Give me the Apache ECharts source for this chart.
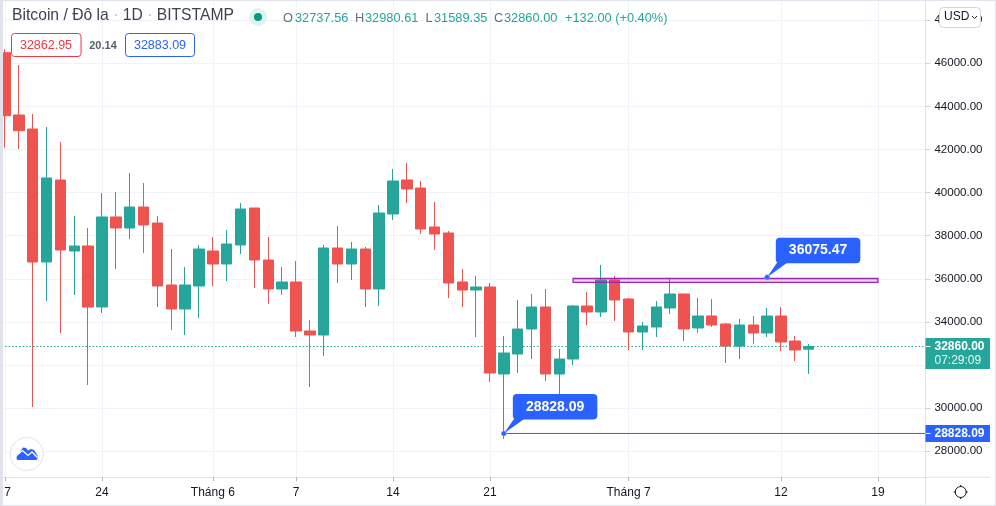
<!DOCTYPE html>
<html>
<head>
<meta charset="utf-8">
<script src="https://cdn.jsdelivr.net/npm/echarts@6/dist/echarts.min.js"></script>
<style>html,body{margin:0;padding:0;background:#fff}#c{width:996px;height:506px}</style>
</head>
<body>
<div id="c"></div>
<script>
const categories = ['17/5','18/5','19/5','20/5','21/5','22/5','23/5','24/5','25/5','26/5','27/5','28/5','29/5','30/5','31/5',
 '1/6','2/6','3/6','4/6','5/6','6/6','7/6','8/6','9/6','10/6','11/6','12/6','13/6','14/6','15/6','16/6','17/6','18/6','19/6','20/6','21/6',
 '22/6','23/6','24/6','25/6','26/6','27/6','28/6','29/6','30/6','1/7','2/7','3/7','4/7','5/7','6/7','7/7','8/7','9/7','10/7','11/7','12/7','13/7','14/7',
 '15/7','16/7','17/7','18/7','19/7','20/7','21/7','22/7'];
const opens = [46492,43602,42952,36782,40586,37293,37525,34695,38870,38360,39334,38591,35715,34602,35669,37293,36690,37571,39287,36875,35530,35855,33582,33396,37432,36690,37385,35530,39009,40586,40215,38406,38128,35855,35483,35623,31587,32514,33674,34695,31587,32283,34741,34463,35947,35066,33535,33767,34649,35298,33721,34277,33906,32885,33860,33489,34277,33117,32737.56];
const highs = [46663,45921,43648,43045,42349,38916,38360,39983,40030,40911,40447,38916,37385,36550,37571,37942,38267,39519,39287,37942,36550,36829,34092,37571,38452,37710,37478,39427,41097,41375,40540,39566,38220,36458,36133,35808,33350,35020,35298,35530,32746,34788,35391,36643,36133,35112,33999,34973,35994,35298,35112,35066,33953,34138,34277,34649,34695,33350,32980.61];
const lows = [42085,42024,30056,34973,33489,35251,31076,34417,36458,37849,37200,34695,33628,33396,34185,35669,35901,37153,35576,34834,35251,33303,30984,32422,35808,35947,34695,34741,38731,39519,38081,37339,35112,34695,33303,31216,28571,31633,32283,31262,30288,32004,33860,34231,34045,32700,32700,33303,34370,33117,33489,33767,32097,32283,32978,33303,32654,32190,31589.35];
const closes = [43569,42873,36782,40679,37339,37525,34695,38870,38360,39334,38499,35669,34602,35715,37385,36690,37617,39241,36875,35530,35855,33582,33396,37432,36690,37385,35530,39056,40540,40169,38313,38081,35808,35483,35623,31633,32561,33674,34695,31587,32283,34741,34463,35947,35020,33535,33813,34695,35298,33674,34277,33860,32885,33860,33489,34277,33071,32700,32860];
const priceTicks = [28000,30000,32000,34000,36000,38000,40000,42000,44000,46000,48000];
const timeTickIndexes = [0,7,15,21,28,35,45,56,63];
const timeTickLabels = ['7','24','Tháng 6','7','14','21','Tháng 7','12','19'];
const lastPrice = 32860;
const lastPriceText = '32860.00';
const countdownText = '07:29:09';
const zoneIndexes = [41,63];
const zoneValues = [36017,35841];
const highNote = [55,36075.47];
const lowNote = [36,28828.09];

const UP='#26A69A',DOWN='#EF5350',BLUE='#2962FF',FONT='"Liberation Sans",Arial,sans-serif',FRAME='#E0E3EB';
const tickMap = {}; timeTickIndexes.forEach((d,i)=>tickMap[d]=timeTickLabels[i]);
const candle = categories.map((_,i)=> i<opens.length ? [opens[i],closes[i],lows[i],highs[i]] : ['-','-','-','-']);

function callout(api, note, dx, dy, w, h, text){
  const p = api.coord(note);
  const x = p[0]+dx, y = p[1]+dy;
  return [
    {type:'polygon',shape:{points:[[p[0],p[1]],[x+1.5,y+h-1],[x+12,y+h-1]]},style:{fill:BLUE}},
    {type:'rect',shape:{x,y,width:w,height:h,r:4},style:{fill:BLUE}},
    {type:'circle',shape:{cx:p[0],cy:p[1],r:2.5},style:{fill:BLUE,stroke:'#8fb0ff',lineWidth:0.6}},
    {type:'text',style:{x:x+w/2,y:y+h/2,text,fill:'#fff',font:'bold 14px '+FONT,align:'center',verticalAlign:'middle'}}
  ];
}
const hdr=(x,text,fill)=>({type:'text',z:100,x,y:18,style:{text,fill,font:'12.8px '+FONT,verticalAlign:'middle'}});

const option = {
  animation:false,
  backgroundColor:'#fff',
  grid:{left:-1.93,right:69.53,top:1,bottom:28.7,containLabel:false,outerBoundsMode:'none'},
  xAxis:{type:'category',data:categories,boundaryGap:true,
    axisLine:{show:true,lineStyle:{color:FRAME,width:1}},
    axisTick:{show:true,alignWithLabel:true,length:4,lineStyle:{color:'#B2B5BE'},interval:(i)=>i in tickMap},
    splitLine:{show:true,alignWithLabel:true,lineStyle:{color:'#F0F3FA'},interval:(i)=>i in tickMap},
    axisLabel:{interval:(i)=>i in tickMap,margin:9,color:'#131722',fontFamily:FONT,fontSize:12,hideOverlap:false,showMinLabel:true,
      formatter:(v,i)=> i===0 ? '{first|'+tickMap[i]+'}' : tickMap[i],
      rich:{first:{padding:[0,0,0,5],fontFamily:FONT,fontSize:12,color:'#131722'}}}
  },
  yAxis:{type:'value',position:'right',offset:-1,min:26794.5,max:48890,scale:true,
    axisLine:{show:true,lineStyle:{color:FRAME,width:1}},
    axisTick:{show:true,length:5,lineStyle:{color:'#D1D4DC'},customValues:priceTicks},
    splitLine:{show:true,lineStyle:{color:'#F0F3FA'},customValues:priceTicks},
    axisLabel:{margin:9,color:'#131722',fontFamily:FONT,fontSize:11.5,customValues:priceTicks,formatter:(v)=>Number(v).toFixed(2),showMinLabel:true,showMaxLabel:true}
  },
  series:[
    {type:'candlestick',data:candle,barWidth:11,clip:false,z:3,
     itemStyle:{color:UP,color0:DOWN,borderColor:UP,borderColor0:DOWN,borderWidth:1},
     markLine:{silent:true,symbol:'none',label:{show:false},animation:false,z:2,
       lineStyle:{color:UP,type:[1.5,2],width:1.2},data:[{yAxis:lastPrice}]},
     markArea:{silent:true,z:4,
       itemStyle:{color:'rgba(156,39,176,0.2)',borderColor:'#9C27B0',borderWidth:1.3},
       data:[[{xAxis:categories[zoneIndexes[0]],yAxis:zoneValues[0]},{xAxis:categories[zoneIndexes[1]],yAxis:zoneValues[1]}]]}
    },
    {type:'custom',z:10,clip:false,silent:true,coordinateSystem:'cartesian2d',
     data:[[lowNote[0],lowNote[1]]],
     encode:{x:0,y:1},
     renderItem:(params,api)=>{
       const cs=params.coordSys, right=cs.x+cs.width-1;
       const lp=api.coord(lowNote), pp=api.coord([0,lastPrice]);
       const kids=[
         {type:'line',shape:{x1:lp[0],y1:lp[1],x2:right,y2:lp[1]},style:{stroke:BLUE,lineWidth:1}},
         {type:'rect',shape:{x:right,y:lp[1]-8.5,width:64.5,height:17},style:{fill:BLUE}},
         {type:'line',shape:{x1:right,y1:lp[1],x2:right+5,y2:lp[1]},style:{stroke:'#fff',lineWidth:1}},
         {type:'text',style:{x:right+9,y:lp[1]+0.5,text:lowNote[1].toFixed(2),fill:'#fff',font:'bold 12px '+FONT,align:'left',verticalAlign:'middle'}},
         {type:'rect',shape:{x:right,y:pp[1]-8.5,width:64.5,height:31},style:{fill:UP}},
         {type:'line',shape:{x1:right,y1:pp[1],x2:right+5,y2:pp[1]},style:{stroke:'#fff',lineWidth:1}},
         {type:'text',style:{x:right+9,y:pp[1],text:lastPriceText,fill:'#fff',font:'bold 12px '+FONT,align:'left',verticalAlign:'middle'}},
         {type:'text',style:{x:right+9,y:pp[1]+14,text:countdownText,fill:'#fff',font:'12px '+FONT,opacity:0.9,align:'left',verticalAlign:'middle'}}
       ];
       return {type:'group',children:kids
         .concat(callout(api,lowNote,9,-39.5,84.5,25.5,lowNote[1].toFixed(2)))
         .concat(callout(api,highNote,8.7,-39.5,84.5,25.5,highNote[1].toFixed(2)))};
     }}
  ],
  graphic:[
    {type:'rect',z:100,shape:{x:0,y:0,width:3,height:506},style:{fill:FRAME}},
    {type:'rect',z:100,shape:{x:0,y:0,width:996,height:1},style:{fill:FRAME}},
    {type:'rect',z:100,shape:{x:995,y:0,width:1,height:506},style:{fill:FRAME}},
    {type:'rect',z:100,shape:{x:0,y:505,width:996,height:1},style:{fill:FRAME}},
    {type:'line',z:100,shape:{x1:925.5,y1:477.3,x2:990,y2:477.3},style:{stroke:FRAME,lineWidth:1}},
    {type:'line',z:100,shape:{x1:925.5,y1:477.3,x2:925.5,y2:505},style:{stroke:FRAME,lineWidth:1}},
    {type:'text',z:100,x:12,y:16,style:{text:'Bitcoin / Đô la {d|·} 1D {d|·} BITSTAMP',fill:'#3f434d',font:'15.7px '+FONT,verticalAlign:'middle',
      rich:{d:{fill:'#b2b5be',font:'15.7px '+FONT}}}},
    {type:'circle',z:100,shape:{cx:258,cy:17,r:9},style:{fill:'#DFF3F0'}},
    {type:'circle',z:100,shape:{cx:258,cy:17,r:4},style:{fill:'#089981'}},
    hdr(283,'O','#6a6d78'),hdr(295,'32737.56',UP),hdr(355,'H','#6a6d78'),hdr(365,'32980.61',UP),
    hdr(425.5,'L','#6a6d78'),hdr(434,'31589.35',UP),hdr(494,'C','#6a6d78'),hdr(504,'32860.00',UP),hdr(565,'+132.00 (+0.40%)',UP),
    {type:'rect',z:100,shape:{x:11.5,y:33.5,width:69.5,height:23,r:3},style:{fill:'#fff',stroke:'#F23645',lineWidth:1}},
    {type:'text',z:100,x:46,y:45.5,style:{text:'32862.95',fill:'#F23645',font:'12.5px '+FONT,align:'center',verticalAlign:'middle'}},
    {type:'text',z:100,x:103,y:45.5,style:{text:'20.14',fill:'#5d606b',font:'bold 11px '+FONT,align:'center',verticalAlign:'middle'}},
    {type:'rect',z:100,shape:{x:125.5,y:33.5,width:69,height:23,r:3},style:{fill:'#fff',stroke:BLUE,lineWidth:1}},
    {type:'text',z:100,x:160,y:45.5,style:{text:'32883.09',fill:BLUE,font:'12.5px '+FONT,align:'center',verticalAlign:'middle'}},
    {type:'rect',z:100,shape:{x:939.5,y:7.5,width:41,height:20,r:4},style:{fill:'#fff',stroke:'#D1D4DC',lineWidth:1}},
    {type:'text',z:100,x:944,y:17,style:{text:'USD',fill:'#131722',font:'12px '+FONT,verticalAlign:'middle'}},
    {type:'polyline',z:100,shape:{points:[[972,16],[974.5,18.5],[977,16]]},style:{stroke:'#131722',lineWidth:1,fill:null}},
    {type:'circle',z:100,shape:{cx:26.7,cy:454,r:16.5},style:{fill:'#fff',stroke:FRAME,lineWidth:1}},
    {type:'polygon',z:100,shape:{points:[[16.5,459],[17,455],[19.5,452.5],[23,447.5],[26,448],[28,450.5],[31,449],[34,450],[36,453],[37.7,456],[37.5,459],[36,460],[18,460]]},style:{fill:BLUE}},
    {type:'polyline',z:100,shape:{points:[[16.5,455.5],[22.5,450.5],[28,455.5],[32,452],[37.5,457.5]]},style:{stroke:'#fff',lineWidth:1.3,fill:null}},
    {type:'circle',z:100,shape:{cx:960.7,cy:492,r:5.5},style:{fill:'#fff',stroke:'#131722',lineWidth:1}},
    {type:'line',z:100,shape:{x1:960.7,y1:485,x2:960.7,y2:487},style:{stroke:'#131722',lineWidth:1}},
    {type:'line',z:100,shape:{x1:960.7,y1:497,x2:960.7,y2:499},style:{stroke:'#131722',lineWidth:1}},
    {type:'line',z:100,shape:{x1:953.7,y1:492,x2:955.7,y2:492},style:{stroke:'#131722',lineWidth:1}},
    {type:'line',z:100,shape:{x1:965.7,y1:492,x2:967.7,y2:492},style:{stroke:'#131722',lineWidth:1}}
  ]
};
const chart = echarts.init(document.getElementById('c'),null,{renderer:'canvas'});
chart.setOption(option);
</script>
</body>
</html>
